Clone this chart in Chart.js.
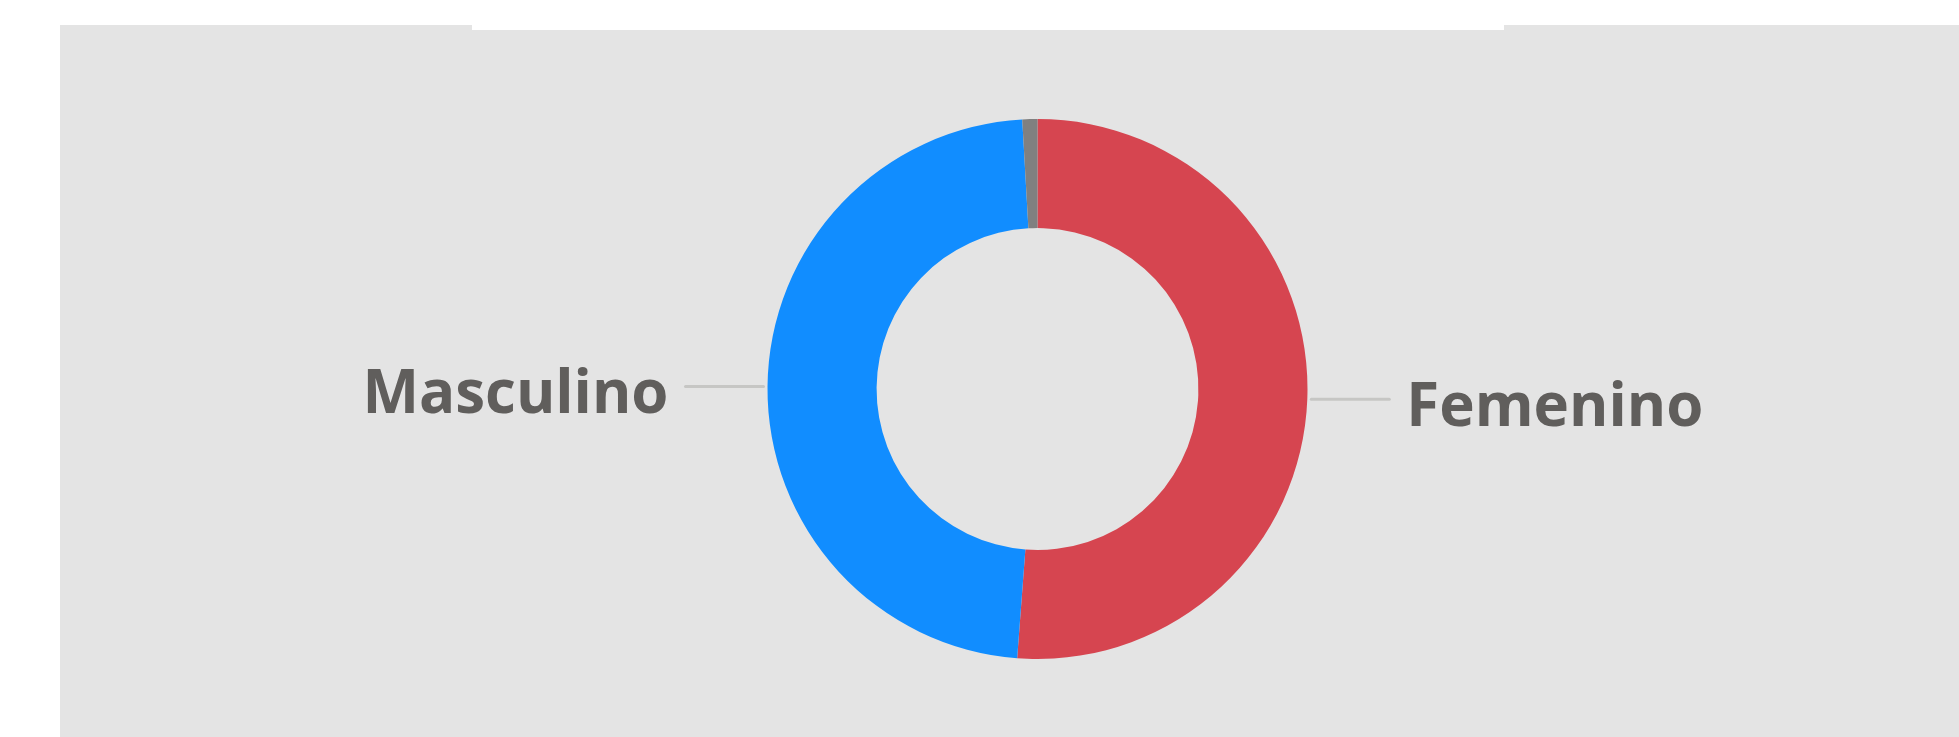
<!DOCTYPE html>
<html>
<head>
<meta charset="utf-8">
<script src="https://cdn.jsdelivr.net/npm/chart.js@4/dist/chart.umd.min.js"></script>
<style>
  html, body { margin: 0; padding: 0; background: #ffffff; overflow: hidden; }
  body { width: 1959px; height: 737px; position: relative; }
  #bg { position: absolute; left: 60px; top: 25px; right: 0; bottom: 0; background: #e4e4e4; }
  #notch { position: absolute; left: 472px; top: 25px; width: 1032px; height: 5px; background: #ffffff; }
  #wrap { position: absolute; left: 0; top: 0; width: 1959px; height: 737px; }
</style>
</head>
<body>
<div id="bg"></div>
<div id="notch"></div>
<div id="wrap"><canvas id="c"></canvas></div>
<script>
const categories = ["Femenino", "Masculino", "(En blanco)"];
const values = [51.2, 47.9, 0.9];
const sliceColors = ["#D64550", "#118DFF", "#808080"];
const shownLabels = [true, true, false];

const labelPlugin = {
  id: 'outsideLabels',
  afterDatasetsDraw(chart) {
    const ctx = chart.ctx;
    const meta = chart.getDatasetMeta(0);
    meta.data.forEach((arc, i) => {
      if (!shownLabels[i]) return;
      const p = arc.getProps(['x', 'y', 'startAngle', 'endAngle', 'outerRadius'], true);
      const mid = (p.startAngle + p.endAngle) / 2;
      const r0 = p.outerRadius + 4;
      const sx = p.x + Math.cos(mid) * r0;
      const sy = p.y + Math.sin(mid) * r0;
      const right = Math.cos(mid) >= 0;
      const ex = sx + (right ? 78 : -78);
      ctx.save();
      ctx.strokeStyle = '#c6c6c4';
      ctx.lineWidth = 3;
      ctx.lineCap = 'round';
      ctx.beginPath();
      ctx.moveTo(sx, sy);
      ctx.lineTo(ex, sy);
      ctx.stroke();
      ctx.fillStyle = '#605E5C';
      ctx.font = '740 60px "Open Sans", "DejaVu Sans", sans-serif';
      ctx.textBaseline = 'alphabetic';
      ctx.textAlign = right ? 'left' : 'right';
      ctx.fillText(chart.data.labels[i], ex + (right ? 17 : -17), sy + 27);
      ctx.restore();
    });
  }
};

new Chart(document.getElementById('c'), {
  type: 'doughnut',
  data: {
    labels: categories,
    datasets: [{
      data: values,
      backgroundColor: sliceColors,
      borderWidth: 0,
      radius: 270
    }]
  },
  options: {
    responsive: true,
    maintainAspectRatio: false,
    animation: false,
    cutout: '59.6%',
    layout: { padding: { left: 116, top: 41, right: 0, bottom: 0 } },
    plugins: {
      legend: { display: false },
      tooltip: { enabled: false },
      title: { display: false }
    }
  },
  plugins: [labelPlugin]
});
</script>
</body>
</html>
